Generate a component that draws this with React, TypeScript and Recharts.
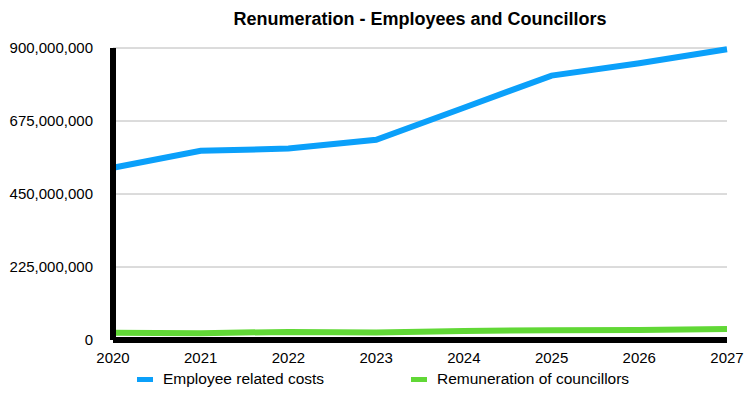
import React from 'react';
import { LineChart, Line, XAxis, YAxis, CartesianGrid, Legend } from 'recharts';

const years = ['2020', '2021', '2022', '2023', '2024', '2025', '2026', '2027'];
const employeeCosts = [531000000, 583000000, 590000000, 617000000, 716000000, 815000000, 853000000, 896000000];
const councillorPay = [22000000, 21000000, 25000000, 23000000, 28000000, 30000000, 31000000, 34000000];
const yTicks = [0, 225000000, 450000000, 675000000, 900000000];

const data = years.map((year, i) => ({
  year,
  employees: employeeCosts[i],
  councillors: councillorPay[i],
}));

const FONT = '"Liberation Sans", Arial, sans-serif';

const LegendContent = (props: any) => {
  const lefts = [137, 411];
  return (
    <div style={{ position: 'relative', height: 20, fontFamily: FONT, fontSize: 15.5 }}>
      {(props.payload || []).map((item: any, i: number) => (
        <div key={item.value} style={{ position: 'absolute', left: lefts[i], top: 0, display: 'flex', alignItems: 'center', height: 20 }}>
          <span style={{ display: 'inline-block', width: 16, height: 5, background: item.color, marginRight: 10 }} />
          <span style={{ color: '#000' }}>{item.value}</span>
        </div>
      ))}
    </div>
  );
};

const App: React.FC = () => {
  return (
    <div style={{ position: 'absolute', left: 0, top: 0, width: 753, height: 397, background: '#fff', fontFamily: FONT }}>
      <div style={{ position: 'absolute', left: 113, width: 614, top: 9, textAlign: 'center', fontWeight: 'bold', fontSize: 18, color: '#000' }}>
        Renumeration - Employees and Councillors
      </div>
      <LineChart width={753} height={397} data={data} margin={{ top: 48, right: 26, left: 8, bottom: 7 }}>
        <CartesianGrid vertical={false} stroke="#b8b8b8" strokeWidth={1} />
        <XAxis
          dataKey="year"
          axisLine={{ stroke: '#000', strokeWidth: 6 }}
          tickLine={false}
          tickSize={0}
          tickMargin={12}
          height={30}
          tick={{ fill: '#000', fontSize: 15, fontFamily: FONT }}
          interval={0}
        />
        <YAxis
          width={105}
          domain={[0, 900000000]}
          ticks={yTicks}
          axisLine={{ stroke: '#000', strokeWidth: 6 }}
          tickLine={false}
          tickSize={0}
          tickMargin={20}
          tick={{ fill: '#000', fontSize: 15, fontFamily: FONT }}
          tickFormatter={(v: number) => v.toLocaleString('en-US')}
        />
        <Legend
          verticalAlign="bottom"
          wrapperStyle={{ left: 0, width: 753, top: 369 }}
          content={<LegendContent />}
        />
        <Line
          type="linear"
          dataKey="employees"
          name="Employee related costs"
          stroke="#0ba0fa"
          strokeWidth={6}
          dot={false}
          isAnimationActive={false}
        />
        <Line
          type="linear"
          dataKey="councillors"
          name="Remuneration of councillors"
          stroke="#61d836"
          strokeWidth={6}
          dot={false}
          isAnimationActive={false}
        />
      </LineChart>
    </div>
  );
};

export default App;
